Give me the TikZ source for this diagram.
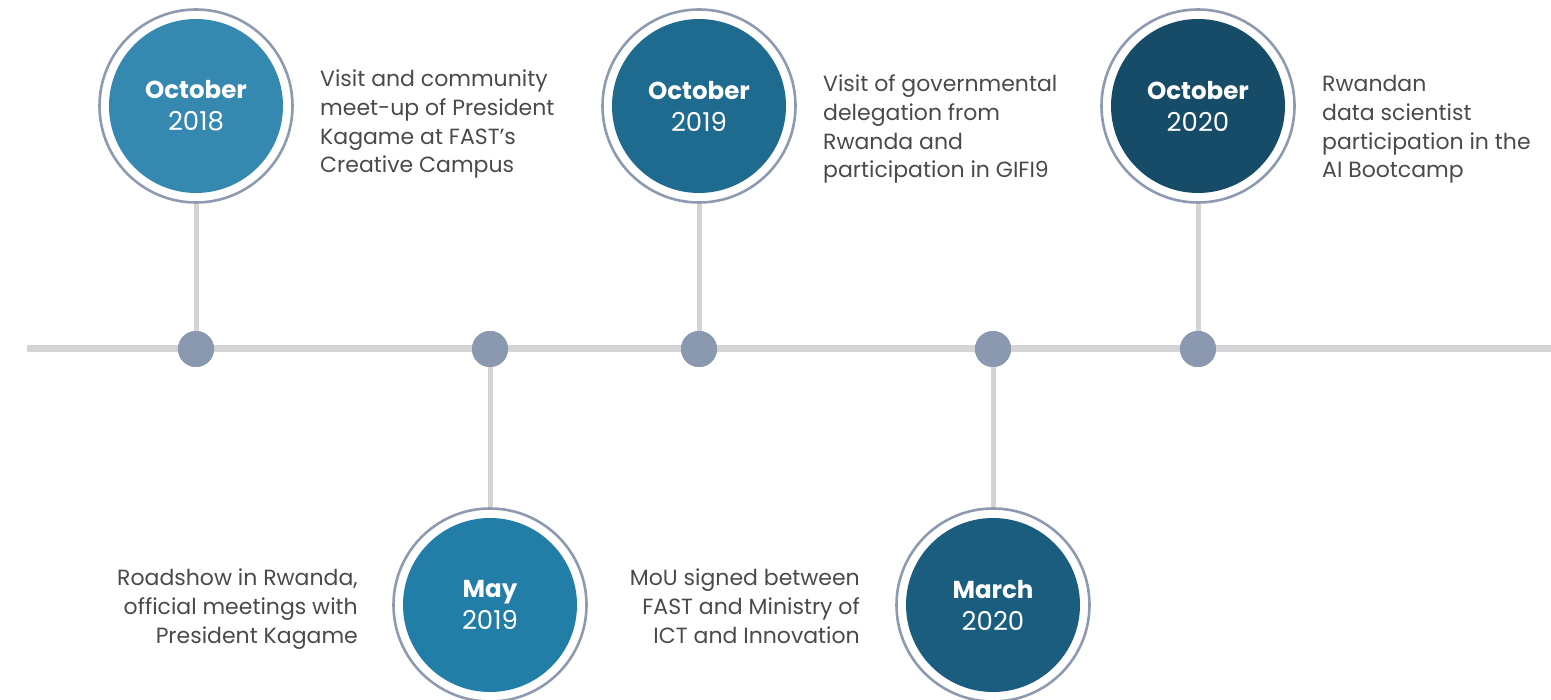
\documentclass[tikz,border=0pt]{standalone}
\usepackage{fontspec}
\setmainfont{Poppins}
\definecolor{axisgray}{HTML}{D4D4D6}
\definecolor{dotcol}{HTML}{8A99AF}
\definecolor{ringcol}{HTML}{8D9AB0}
\definecolor{txtcol}{HTML}{4A4A4A}
\definecolor{cA}{HTML}{3589B0}
\definecolor{cB}{HTML}{227EA7}
\definecolor{cC}{HTML}{1F6A8F}
\definecolor{cD}{HTML}{1A5D7F}
\definecolor{cE}{HTML}{164C68}
\newcommand{\mon}[1]{{\fontsize{24.5}{32}\selectfont\bfseries #1}}
\newcommand{\yr}[1]{{\fontsize{26}{32}\selectfont #1}}
\begin{document}
\begin{tikzpicture}[x=1pt,y=-1pt,
  axisline/.style={draw=axisgray,line width=7pt},
  stemline/.style={draw=axisgray,line width=5pt},
  ringnode/.style={circle,draw=ringcol,line width=2.6pt,fill=white,minimum size=193pt,inner sep=0pt},
  datenode/.style={circle,fill=#1,minimum size=174pt,inner sep=0pt,text=white,align=center,
    font=\fontsize{24}{32}\selectfont},
  dotnode/.style={circle,fill=dotcol,minimum size=36pt,inner sep=0pt},
  desc/.style={text=txtcol,inner sep=0pt,font=\fontsize{22}{28.7}\selectfont},
  descL/.style={desc,align=left,anchor=base west},
  descR/.style={desc,align=right,anchor=base east}]
\useasboundingbox (0,0) rectangle (1551,700);
% axis
\coordinate (L) at (27,349);
\coordinate (R) at (1551,349);
\draw[axisline] (L) -- (R);
% dots
\node[dotnode] (d1) at (196,349) {};
\node[dotnode] (d2) at (490,349) {};
\node[dotnode] (d3) at (699,349) {};
\node[dotnode] (d4) at (993,349) {};
\node[dotnode] (d5) at (1198,349) {};
% rings
\node[ringnode] (r1) at (196,106) {};
\node[ringnode] (r2) at (490,605) {};
\node[ringnode] (r3) at (699,106) {};
\node[ringnode] (r4) at (993,605) {};
\node[ringnode] (r5) at (1198,106) {};
% stems
\draw[stemline] (r1) -- (d1);
\draw[stemline] (r2) -- (d2);
\draw[stemline] (r3) -- (d3);
\draw[stemline] (r4) -- (d4);
\draw[stemline] (r5) -- (d5);
\node[dotnode] at (d1) {};
\node[dotnode] at (d2) {};
\node[dotnode] at (d3) {};
\node[dotnode] at (d4) {};
\node[dotnode] at (d5) {};
% date discs
\node[datenode=cA] (c1) at (r1.center) {\mon{October}\\\yr{2018}};
\node[datenode=cB] (c2) at (r2.center) {\mon{May}\\\yr{2019}};
\node[datenode=cC] (c3) at (r3.center) {\mon{October}\\\yr{2019}};
\node[datenode=cD] (c4) at (r4.center) {\mon{March}\\\yr{2020}};
\node[datenode=cE] (c5) at (r5.center) {\mon{October}\\\yr{2020}};
% descriptions (base anchor = last line)
\node[descL] (t1) at (320,173) {Visit and community\\meet-up of President\\Kagame at FAST’s\\Creative Campus};
\node[descL] (t3) at (823,178) {Visit of governmental\\delegation from\\Rwanda and\\participation in GIFI9};
\node[descL] (t5) at (1322,178) {Rwandan\\data scientist\\participation in the\\AI Bootcamp};
\node[descR] (t2) at (358,643) {Roadshow in Rwanda,\\official meetings with\\President Kagame};
\node[descR] (t4) at (860,643) {MoU signed between\\FAST and Ministry of\\ICT and Innovation};
\end{tikzpicture}
\end{document}
